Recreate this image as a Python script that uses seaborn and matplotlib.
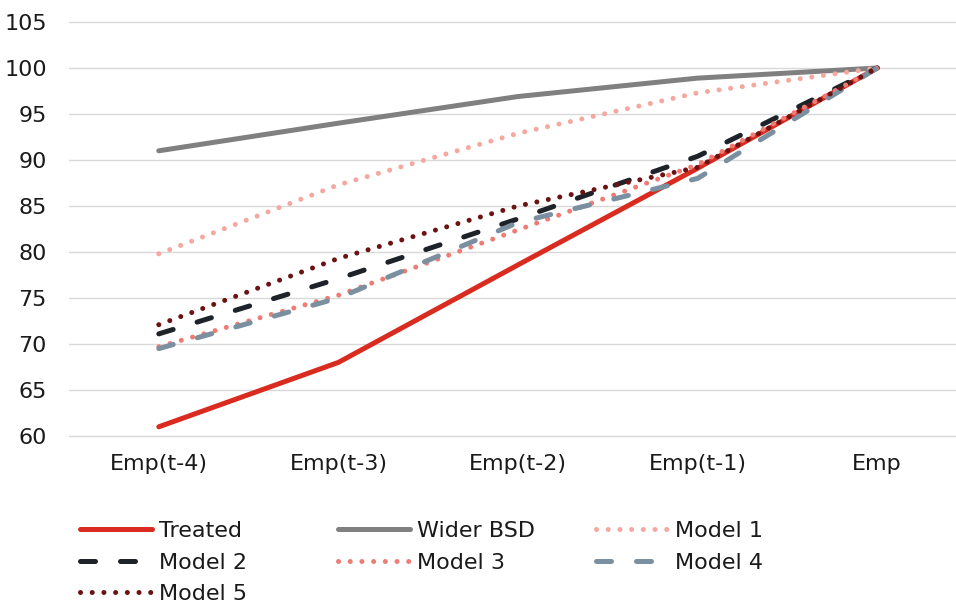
import matplotlib
matplotlib.use("Agg")
import matplotlib.pyplot as plt
import seaborn as sns

# Employment index over the pre-treatment window (Emp = 100)
periods = ["Emp(t-4)", "Emp(t-3)", "Emp(t-2)", "Emp(t-1)", "Emp"]
treated = [61.0, 68.0, 78.6, 89.1, 100.0]
wider_bsd = [91.0, 94.0, 96.9, 98.9, 100.0]
model_1 = [79.8, 87.3, 92.9, 97.3, 100.0]
model_2 = [71.1, 77.1, 83.6, 90.4, 100.0]
model_3 = [69.7, 75.3, 82.4, 89.5, 100.0]
model_4 = [69.5, 75.0, 83.2, 88.0, 100.0]
model_5 = [72.1, 79.3, 85.0, 89.2, 100.0]
y_ticks = [60, 65, 70, 75, 80, 85, 90, 95, 100, 105]

sns.set_theme(style="white")
plt.rcParams["font.family"] = ["DejaVu Sans"]
text_color = "#1a1a1a"

LW = 3.6
dotted = (0, (0.01, 2.33))
dashed = (0, (3.0, 5.0))

series = [
    ("Treated", treated, "#d92b1f", "-"),
    ("Wider BSD", wider_bsd, "#808080", "-"),
    ("Model 1", model_1, "#f4a89f", dotted),
    ("Model 2", model_2, "#1e2329", dashed),
    ("Model 3", model_3, "#ee7c75", dotted),
    ("Model 4", model_4, "#7a8f9f", dashed),
    ("Model 5", model_5, "#6b1212", dotted),
]

fig = plt.figure(figsize=(9.56, 6.08), dpi=100)
ax = fig.add_axes([69 / 956, 1 - 436 / 608, (967 - 69) / 956, (436 - 22) / 608])

positions = list(range(len(periods)))
handles = {}
for name, vals, color, ls in series:
    sns.lineplot(x=positions, y=vals, ax=ax, color=color, linewidth=LW,
                 linestyle=ls, dash_capstyle="round", solid_capstyle="round",
                 sort=False, label=name, legend=False)
    handles[name] = ax.lines[-1]

ax.set_xlim(-0.5, len(periods) - 0.5)
ax.set_ylim(60, 105)
ax.set_xticks(positions)
ax.set_xticklabels(periods)
ax.set_yticks(y_ticks)
ax.set_yticklabels([str(t) for t in y_ticks])
ax.set_xlabel("")
ax.set_ylabel("")

ax.yaxis.grid(True, color="#d9d9d9", linewidth=1.0)
ax.xaxis.grid(False)
ax.set_axisbelow(True)
for gl in ax.get_ygridlines():
    gl.set_clip_on(False)
for sp in ax.spines.values():
    sp.set_visible(False)
ax.tick_params(axis="y", length=0, pad=16, labelsize=16, labelcolor=text_color)
ax.tick_params(axis="x", length=0, pad=13, labelsize=16, labelcolor=text_color)

legend_cols = [
    (["Treated", "Model 2", "Model 5"], 80),
    (["Wider BSD", "Model 3"], 338),
    (["Model 1", "Model 4"], 596),
]
for names, x0 in legend_cols:
    leg = fig.legend(handles=[handles[n] for n in names], labels=names,
                     loc="upper left", bbox_to_anchor=(x0 / 956, 1 - 521 / 608),
                     frameon=False, borderpad=0, borderaxespad=0,
                     handlelength=3.25, handletextpad=0.3, labelspacing=0.52,
                     fontsize=16)
    for t in leg.get_texts():
        t.set_color(text_color)

fig.savefig("out.png", dpi=100)
